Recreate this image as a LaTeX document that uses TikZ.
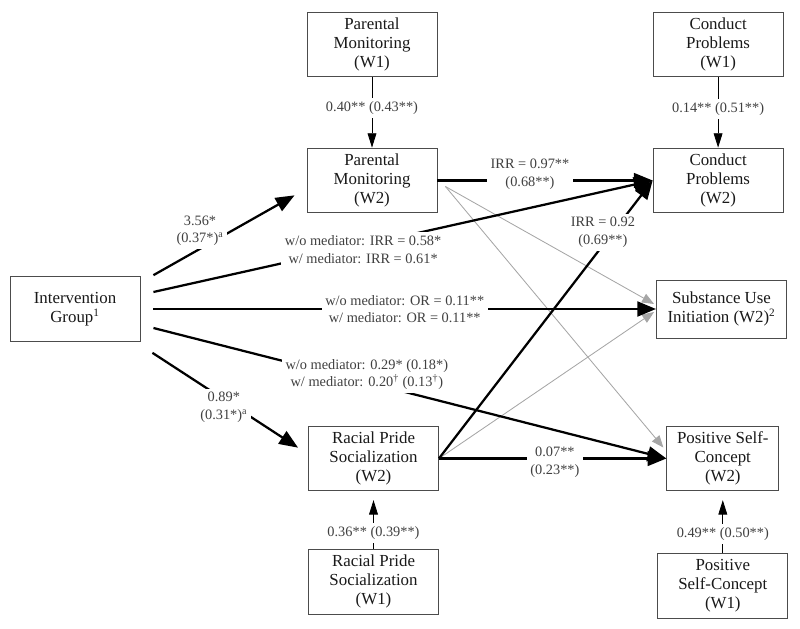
\documentclass[tikz,border=0pt]{standalone}
\usepackage{fontspec}
\setmainfont{Liberation Serif}
\usetikzlibrary{positioning,arrows.meta}

\tikzset{
  box/.style={draw=black!70, line width=0.6pt, align=center, inner sep=2pt,
    minimum width=3.25cm, minimum height=1.62cm, text=black!90,
    font=\fontsize{12}{13.5}\selectfont},
  lab/.style={fill=white, inner sep=2.5pt, align=center, text=black!75,
    font=\fontsize{10.2}{12.5}\selectfont},
  strong/.style={line width=1.6pt, -{Triangle[length=0.47cm,width=0.37cm]}},
  weak/.style={line width=0.6pt, -{Triangle[length=0.36cm,width=0.22cm]}},
  faint/.style={draw=black!35, line width=0.6pt,
    -{Triangle[length=0.3cm,width=0.24cm,fill=black!35]}}
}

\begin{document}
\begin{tikzpicture}[x=0.025cm,y=-0.025cm,every node/.style={on grid}]
    \useasboundingbox (0,0) rectangle (800,629);
    \node[box] (ig) at (75,309) {Intervention\\Group\textsuperscript{1}};
    \node[box] (pmw2) at (372,180.5) {Parental\\Monitoring\\(W2)};
    \node[box, above of=pmw2, node distance=3.4cm] (pmw1) {Parental\\Monitoring\\(W1)};
    \node[box, right of=pmw2, node distance=8.65cm] (cpw2) {Conduct\\Problems\\(W2)};
    \node[box, above of=cpw2, node distance=3.4cm] (cpw1) {Conduct\\Problems\\(W1)};
    \node[box, minimum height=1.45cm] (sui) at (721.5,309) {Substance Use\\Initiation (W2)\textsuperscript{2}};
    \node[box] (rpsw2) at (373.5,458.5) {Racial Pride\\Socialization\\(W2)};
    \node[box, below of=rpsw2, node distance=3.075cm] (rpsw1) {Racial Pride\\Socialization\\(W1)};
    \node[box, minimum width=2.8cm, right of=rpsw2, node distance=8.73cm] (pscw2) {Positive Self-\\Concept\\(W2)};
    \node[box, below of=pscw2, node distance=3.175cm] (pscw1) {Positive\\Self-Concept\\(W1)};
    % stability paths
    \draw[weak] (pmw1.south) -- node[lab, pos=0.44] {0.40** (0.43**)} (pmw1.south |- pmw2.north);
    \draw[weak] (cpw1.south) -- node[lab, pos=0.45] {0.14** (0.51**)} (cpw1.south |- cpw2.north);
    \draw[weak, shorten >=0.22cm] (rpsw1.north) -- node[lab, pos=0.27] {0.36** (0.39**)} (rpsw1.north |- rpsw2.south);
    \draw[weak, shorten >=0.22cm] (pscw1.north) -- node[lab, pos=0.3] {0.49** (0.50**)} (pscw1.north |- pscw2.south);
    % non-significant paths
    \draw[faint] ([shift={(8,6)}]pmw2.east) -- ([shift={(-2,-5)}]sui.west);
    \draw[faint] ([shift={(8,6)}]pmw2.east) -- ([shift={(-3,-11)}]pscw2.west);
    \draw[faint] (rpsw2.east) -- ([shift={(-2,3)}]sui.west);
    % intervention effects
    \draw[strong] ([shift={(13,-1)}]ig.north east) -- node[lab, pos=0.33, yshift=0.45cm] {3.56*\\(0.37*)\textsuperscript{a}} ([shift={(-12,-18)}]pmw2.south west);
    \draw[strong] ([shift={(12,11)}]ig.south east) -- node[lab, pos=0.49, yshift=-0.2cm] {0.89*\\(0.31*)\textsuperscript{a}} ([shift={(-10,22)}]rpsw2.north west);
    \draw[strong] ([shift={(13,-17)}]ig.east) -- node[lab, pos=0.42, yshift=-0.11cm] {w/o mediator: IRR = 0.58*\\w/ mediator: IRR = 0.61*} (cpw2.west);
    \draw[strong, line width=2pt] ([shift={(13,0)}]ig.east) -- node[lab, pos=0.5] {w/o mediator: OR = 0.11**\\w/ mediator: OR = 0.11**} (sui.west);
    \draw[strong] ([shift={(13,19)}]ig.east) -- node[lab, pos=0.416, yshift=0.19cm] {w/o mediator: 0.29* (0.18*)\\w/ mediator: 0.20\textsuperscript{\textdagger} (0.13\textsuperscript{\textdagger})} (pscw2.west);
    % mediator effects
    \draw[strong] (pmw2.east) -- node[lab, pos=0.43, yshift=0.15cm] {IRR = 0.97**\\(0.68**)} (cpw2.west);
    \draw[strong] (rpsw2.east) -- node[lab, pos=0.814, xshift=-0.25cm] {IRR = 0.92\\(0.69**)} (cpw2.west);
    \draw[strong] (rpsw2.east) -- node[lab, pos=0.51, yshift=-0.1cm] {0.07**\\(0.23**)} (pscw2.west);
\end{tikzpicture}
\end{document}
